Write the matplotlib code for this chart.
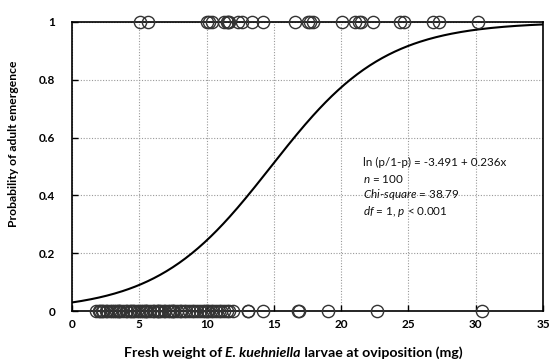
import numpy as np
import matplotlib
matplotlib.use("Agg")
import matplotlib.pyplot as plt
from matplotlib.offsetbox import TextArea, HPacker, AnnotationBbox

FONT = "Lato"
plt.rcParams['font.family'] = [FONT, 'DejaVu Sans']
plt.rcParams['mathtext.fontset'] = 'custom'
plt.rcParams['mathtext.rm'] = FONT
plt.rcParams['mathtext.it'] = FONT + ':italic'
plt.rcParams['mathtext.bf'] = FONT + ':bold'

# ---- data ----
emerged_weights = [5.05, 5.65, 10.0, 10.2, 10.4, 11.3, 11.5, 11.6, 11.7, 12.3, 12.6,
                   13.4, 14.2, 16.6, 17.5, 17.7, 17.9, 20.1, 21.0, 21.3, 21.5, 22.4,
                   24.4, 24.7, 26.8, 27.3, 30.2]
failed_weights = [1.8, 2.0, 2.1, 2.2, 2.3, 2.5, 2.6, 2.8, 3.0, 3.1, 3.3, 3.4, 3.5, 3.6,
                  3.8, 4.0, 4.1, 4.3, 4.4, 4.5, 4.6, 4.8, 5.0, 5.1, 5.3, 5.4, 5.5, 5.6,
                  5.8, 6.0, 6.1, 6.3, 6.4, 6.5, 6.6, 6.8, 6.9, 7.1, 7.3, 7.4, 7.5, 7.6,
                  7.8, 8.0, 8.1, 8.3, 8.5, 8.7, 8.9, 9.1, 9.3, 9.5, 9.7, 9.9, 10.0, 10.1,
                  10.3, 10.5, 10.7, 10.9, 11.1, 11.3, 11.5, 11.7, 12.0,
                  13.1, 13.1, 14.2, 16.8, 16.9, 19.0, 22.7, 30.5]
intercept = -3.491
slope = 0.236
x_ticks = [0, 5, 10, 15, 20, 25, 30, 35]
y_ticks = [0, 0.2, 0.4, 0.6, 0.8, 1]
y_ticklabels = ["0", "0.2", "0.4", "0.6", "0.8", "1"]

fig = plt.figure(figsize=(5.52, 3.62), dpi=100)
ax = fig.add_axes([72/552, 1-311/362, (543-72)/552, (311-22)/362])

xs = np.linspace(0, 35, 300)
ps = 1/(1+np.exp(-(intercept + slope*xs)))

mk = dict(marker='o', ls='none', ms=8.8, mfc='none', mec='#333333', mew=1.0, clip_on=False, zorder=4)
ax.plot(emerged_weights, np.ones(len(emerged_weights)), **mk)
ax.plot(failed_weights, np.zeros(len(failed_weights)), **mk)
ax.plot(xs, ps, color='black', lw=1.5, zorder=3)

ax.set_xlim(0, 35)
ax.set_ylim(0, 1)
ax.set_xticks(x_ticks)
ax.set_yticks(y_ticks)
ax.set_yticklabels(y_ticklabels)
ax.tick_params(direction='in', length=4, width=1, labelsize=8.5)
ax.tick_params(axis='y', pad=12)
ax.tick_params(axis='x', pad=6)
for lab in ax.get_xticklabels() + ax.get_yticklabels():
    lab.set_fontweight('bold')
for s in ax.spines.values():
    s.set_linewidth(1.2)
ax.grid(True, ls=(0, (1, 1.5)), color='#999999', lw=0.8)

ax.set_ylabel("Probability of adult emergence", fontsize=8.7, fontweight='bold')
ax.yaxis.set_label_coords(-53/471, 0.58)

# x label with bold-italic species name
parts = [TextArea("Fresh weight of ", textprops=dict(fontsize=10.2, fontweight='bold')),
         TextArea("E. kuehniella", textprops=dict(fontsize=10.2, fontweight='bold', style='italic')),
         TextArea(" larvae at oviposition (mg)", textprops=dict(fontsize=10.2, fontweight='bold'))]
box = HPacker(children=parts, align='baseline', pad=0, sep=0)
ab = AnnotationBbox(box, (293/552, 1-353/362), xycoords='figure fraction', frameon=False,
                    box_alignment=(0.5, 0.5))
ax.add_artist(ab)

ann = [r"ln (p/1-p) = -3.491 + 0.236x",
       r"$\mathit{n}$ = 100",
       r"$\mathit{Chi}$-$\mathit{square}$ = 38.79",
       r"$\mathit{df}$ = 1, $\mathit{p}$ < 0.001"]
y0 = 162
for i, t in enumerate(ann):
    fig.text(363/552, 1-(y0+i*16.5)/362, t, fontsize=8.4, va='center', ha='left', color='#111111')

fig.savefig("out.png", dpi=100)
